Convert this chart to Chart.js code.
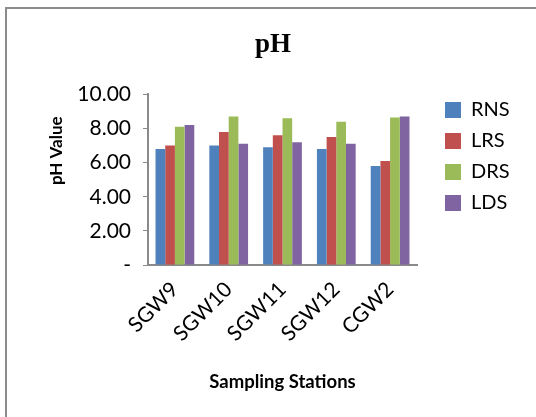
<!DOCTYPE html>
<html>
<head>
<meta charset="utf-8">
<script src="https://cdn.jsdelivr.net/npm/chart.js@4.4.1/dist/chart.umd.min.js"></script>
<style>
  body { margin: 0; background: #fff; overflow: hidden; }
  #wrap { position: relative; width: 536px; height: 417px; overflow: hidden; }
  #frame { position: absolute; left: 5px; top: 7px; width: 600px; height: 500px; border: 2px solid #8c8c8c; }
  canvas { position: absolute; left: 0; top: 0; }
</style>
</head>
<body>
<div id="wrap">
  <div id="frame"></div>
  <canvas id="myChart" width="536" height="417"></canvas>
</div>
<script>
var stations = ['SGW9', 'SGW10', 'SGW11', 'SGW12', 'CGW2'];
var rns = [6.8, 7.0, 6.9, 6.8, 5.8];
var lrs = [7.0, 7.8, 7.6, 7.5, 6.1];
var drs = [8.1, 8.7, 8.6, 8.4, 8.65];
var lds = [8.2, 7.1, 7.2, 7.1, 8.7];
var yTicks = [0, 2, 4, 6, 8, 10];

// legend and title sit where Excel put them
var nudge = {
	id: 'nudge',
	afterLayout(chart){
		var lg = chart.legend;
		lg.left = 434;
		lg.right = 536;
		lg.width = 102;
		lg.top = 89;
		chart.titleBlock.left = 10;
		chart.titleBlock.right = 536;
	}
};

var ctx = document.getElementById('myChart').getContext('2d');
var chart = new Chart(ctx, {
	type: 'bar',
	data: {
		labels: stations,
		datasets: [
			{ label: 'RNS', data: rns, backgroundColor: '#4F81BD' },
			{ label: 'LRS', data: lrs, backgroundColor: '#C0504D' },
			{ label: 'DRS', data: drs, backgroundColor: '#9BBB59' },
			{ label: 'LDS', data: lds, backgroundColor: '#8064A2' }
		]
	},
	plugins: [nudge],
	options: {
		responsive: false,
		animation: false,
		layout: { padding: { left: 0, right: 49, top: 0, bottom: 0 } },
		datasets: { bar: { categoryPercentage: 0.72, barPercentage: 1.0 } },
		plugins: {
			title: {
				display: true,
				text: 'pH',
				color: '#000',
				font: { family: 'Liberation Serif', size: 27, weight: 'bold' },
				padding: { top: 29, bottom: 33 }
			},
			legend: {
				position: 'right',
				align: 'start',
				maxWidth: 70,
				labels: {
					boxWidth: 16,
					boxHeight: 16,
					padding: 11,
					color: '#000',
					font: { family: 'Lato', size: 20 }
				}
			},
			tooltip: { enabled: false }
		},
		scales: {
			x: {
				afterFit(s){ s.height = 152; },
				grid: { display: true, drawOnChartArea: false, drawTicks: false },
				border: { color: '#8a8a8a', width: 2 },
				ticks: {
					autoSkip: false,
					minRotation: 45,
					maxRotation: 45,
					padding: 12,
					color: '#000',
					font: { family: 'Lato', size: 21 }
				},
				title: {
					display: true,
					text: 'Sampling Stations',
					color: '#000',
					font: { family: 'Lato', size: 18.5, weight: 'bold' },
					padding: { top: 0, bottom: 24 }
				}
			},
			y: {
				min: 0,
				max: 10,
				afterFit(s){ s.width = 148; },
				afterBuildTicks(s){ s.ticks = yTicks.map(function(v){ return { value: v }; }); },
				grid: { drawOnChartArea: false, color: '#8a8a8a', tickLength: 5 },
				border: { color: '#8a8a8a', width: 2 },
				ticks: {
					padding: 12,
					color: '#000',
					font: { family: 'Lato', size: 21 },
					callback: function(v){ return v === 0 ? '-' : Number(v).toFixed(2); }
				},
				title: {
					display: true,
					text: '              pH Value',
					color: '#000',
					font: { family: 'Lato', size: 17, weight: 'bold' },
					padding: { top: 46, bottom: 0 }
				}
			}
		}
	}
});
</script>
</body>
</html>
